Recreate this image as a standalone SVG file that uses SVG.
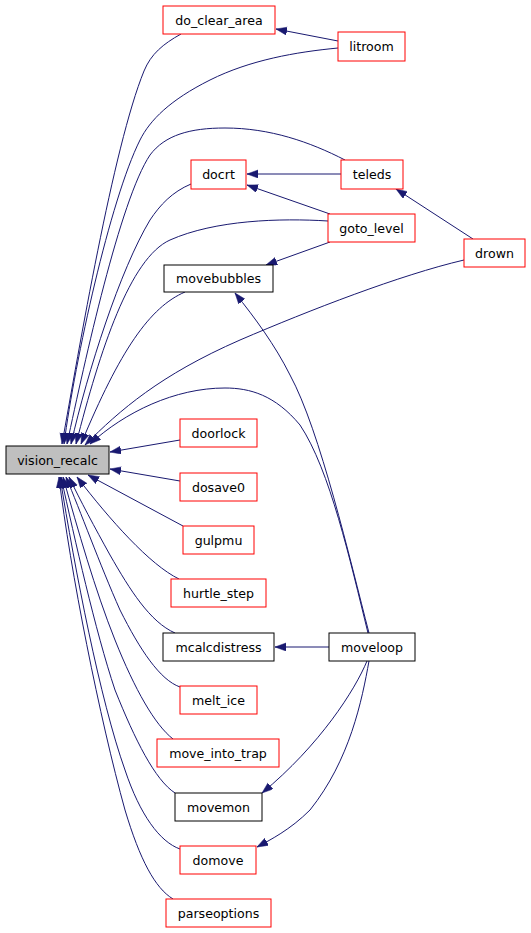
<svg xmlns="http://www.w3.org/2000/svg" width="531" height="933" viewBox="0 0 531 933">
<style>
.n rect{fill:#fff;stroke:#ff0000;stroke-width:1}
.n.b rect{stroke:#000}
.n.g rect{fill:#bfbfbf;stroke:#000}
.n text{font-family:"DejaVu Sans",sans-serif;font-size:12.6px;text-anchor:middle;fill:#000}
#edges path{fill:none;stroke:#191970;stroke-width:1;marker-end:url(#ah)}
</style>
<defs>
<marker id="ah" markerUnits="userSpaceOnUse" markerWidth="13" markerHeight="10" refX="11" refY="4" orient="auto">
<path d="M0,0 L11,4 L0,8 Z" fill="#191970" stroke="#191970" stroke-width="0.5"/>
</marker>
</defs>
<rect width="531" height="933" fill="#fff"/>
<g id="edges">
<path d="M181,34 C163,44 151,54 144,71 C113,147 79,350 62,444"/>
<path d="M338,41 L276,29"/>
<path d="M338,48 C296,52 250,60 210,80 C170,100 150,120 140,140 C110,200 75,360 64,444"/>
<path d="M345,160 C310,142 270,128 225,128 C190,128 165,135 150,155 C120,200 85,360 67,444"/>
<path d="M341,174 L247,174"/>
<path d="M330,214 L247,185"/>
<path d="M473,239 L396,189"/>
<path d="M191,184 C172,192 160,205 150,220 C120,270 88,370 71,444"/>
<path d="M328,221 C280,218 215,220 170,240 C130,258 100,350 76,444"/>
<path d="M330,242 L266,265"/>
<path d="M185,292 C150,307 120,350 81,444"/>
<path d="M464,260 C400,275 310,310 240,340 C160,375 120,410 85,445"/>
<path d="M368,633 C350,560 330,470 300,425 C275,395 250,388 225,388 C175,388 125,412 90,444"/>
<path d="M369,633 C350,560 320,430 290,375 C275,345 255,318 235,293"/>
<path d="M180,440 L110,452"/>
<path d="M180,481 L110,469"/>
<path d="M183,526 L88,475"/>
<path d="M179,579 C150,565 110,520 77,477"/>
<path d="M175,633 C150,622 130,590 110,555 C95,528 80,500 69,477"/>
<path d="M329,647 L275,647"/>
<path d="M180,687 C160,680 140,650 120,610 C100,565 80,510 66,477"/>
<path d="M173,739 C155,725 135,690 115,640 C95,590 78,530 63,477"/>
<path d="M175,793 C155,780 135,740 115,690 C95,630 75,540 61,477"/>
<path d="M367,661 C355,690 320,745 262,793"/>
<path d="M180,849 C160,842 140,815 125,770 C100,700 75,570 60,477"/>
<path d="M369,661 C362,700 350,760 310,810 C290,830 270,840 257,847"/>
<path d="M173,899 C155,888 140,860 125,810 C100,720 70,570 59,477"/>
</g>
<g id="do_clear_area" class="n"><rect x="163" y="6" width="112" height="28"/><text x="219" y="24.5">do_clear_area</text></g>
<g id="litroom" class="n"><rect x="338" y="32" width="67" height="29"/><text x="371.5" y="51">litroom</text></g>
<g id="docrt" class="n"><rect x="191" y="160" width="55" height="29"/><text x="218.5" y="179">docrt</text></g>
<g id="teleds" class="n"><rect x="341" y="160" width="62" height="29"/><text x="372" y="179">teleds</text></g>
<g id="goto_level" class="n"><rect x="328" y="214" width="87" height="28"/><text x="371.5" y="232.5">goto_level</text></g>
<g id="drown" class="n"><rect x="464" y="239" width="61" height="28"/><text x="494.5" y="257.5">drown</text></g>
<g id="movebubbles" class="n b"><rect x="164" y="265" width="109" height="27"/><text x="218.5" y="283">movebubbles</text></g>
<g id="vision_recalc" class="n g"><rect x="6" y="446" width="103" height="28"/><text x="57.5" y="464.5">vision_recalc</text></g>
<g id="doorlock" class="n"><rect x="180" y="419" width="77" height="28"/><text x="218.5" y="437.5">doorlock</text></g>
<g id="dosave0" class="n"><rect x="180" y="473" width="77" height="28"/><text x="218.5" y="491.5">dosave0</text></g>
<g id="gulpmu" class="n"><rect x="183" y="526" width="71" height="28"/><text x="218.5" y="544.5">gulpmu</text></g>
<g id="hurtle_step" class="n"><rect x="171" y="579" width="95" height="28"/><text x="218.5" y="597.5">hurtle_step</text></g>
<g id="mcalcdistress" class="n b"><rect x="163" y="633" width="111" height="28"/><text x="218.5" y="651.5">mcalcdistress</text></g>
<g id="moveloop" class="n b"><rect x="329" y="633" width="86" height="28"/><text x="372" y="651.5">moveloop</text></g>
<g id="melt_ice" class="n"><rect x="180" y="686" width="77" height="28"/><text x="218.5" y="704.5">melt_ice</text></g>
<g id="move_into_trap" class="n"><rect x="157" y="739" width="122" height="28"/><text x="218" y="757.5">move_into_trap</text></g>
<g id="movemon" class="n b"><rect x="175" y="793" width="87" height="28"/><text x="218.5" y="811.5">movemon</text></g>
<g id="domove" class="n"><rect x="180" y="846" width="76" height="28"/><text x="218" y="864.5">domove</text></g>
<g id="parseoptions" class="n"><rect x="166" y="899" width="105" height="28"/><text x="218.5" y="917.5">parseoptions</text></g>
</svg>
